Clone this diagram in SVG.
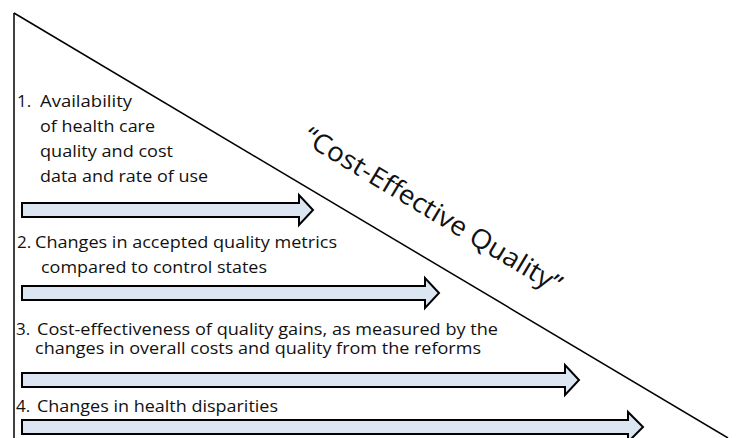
<svg xmlns="http://www.w3.org/2000/svg" width="742" height="438" viewBox="0 0 742 438">
<style>
.frame{fill:none;stroke:#000;stroke-width:1.5}
.arrow{fill:#DCE6F2;stroke:#000;stroke-width:2;stroke-linejoin:miter}
.t{font-family:"Open Sans","Liberation Sans",sans-serif;font-size:17px;fill:#111}
.title{font-family:"Open Sans","Liberation Sans",sans-serif;font-size:26.5px;fill:#111}
</style>
<rect width="742" height="438" fill="#fff"/>
<g id="frame">
<line class="frame" x1="14" y1="13" x2="14" y2="438"/>
<line class="frame" x1="14" y1="13" x2="728" y2="438"/>
</g>
<g id="title">
<text class="title" text-anchor="middle" transform="translate(428,218) rotate(31)" textLength="296" lengthAdjust="spacingAndGlyphs">“Cost-Effective Quality”</text>
</g>
<g id="item1">
<text class="t" x="17" y="107">1.</text>
<text class="t" x="40" y="107" textLength="92" lengthAdjust="spacingAndGlyphs">Availability</text>
<text class="t" x="40" y="132" textLength="115" lengthAdjust="spacingAndGlyphs">of health care</text>
<text class="t" x="40" y="156.5" textLength="133" lengthAdjust="spacingAndGlyphs">quality and cost</text>
<text class="t" x="40" y="181.5" textLength="168" lengthAdjust="spacingAndGlyphs">data and rate of use</text>
<path class="arrow" d="M22,203 H299 V195 L313,210 L299,225 V217 H22 Z"/>
</g>
<g id="item2">
<text class="t" x="17" y="248">2.</text>
<text class="t" x="35" y="248" textLength="302" lengthAdjust="spacingAndGlyphs">Changes in accepted quality metrics</text>
<text class="t" x="41" y="273" textLength="226" lengthAdjust="spacingAndGlyphs">compared to control states</text>
<path class="arrow" d="M22,286 H425 V278 L439,293 L425,308 V300 H22 Z"/>
</g>
<g id="item3">
<text class="t" x="16" y="335">3.</text>
<text class="t" x="37" y="335" textLength="461" lengthAdjust="spacingAndGlyphs">Cost-effectiveness of quality gains, as measured by the</text>
<text class="t" x="35" y="354" textLength="446" lengthAdjust="spacingAndGlyphs">changes in overall costs and quality from the reforms</text>
<path class="arrow" d="M22,373 H565 V365 L579,380 L565,395 V387 H22 Z"/>
</g>
<g id="item4">
<text class="t" x="16" y="412">4.</text>
<text class="t" x="37" y="412" textLength="241" lengthAdjust="spacingAndGlyphs">Changes in health disparities</text>
<path class="arrow" d="M22,420 H628 V412 L643,427 L628,442 V434 H22 Z"/>
</g>
</svg>
